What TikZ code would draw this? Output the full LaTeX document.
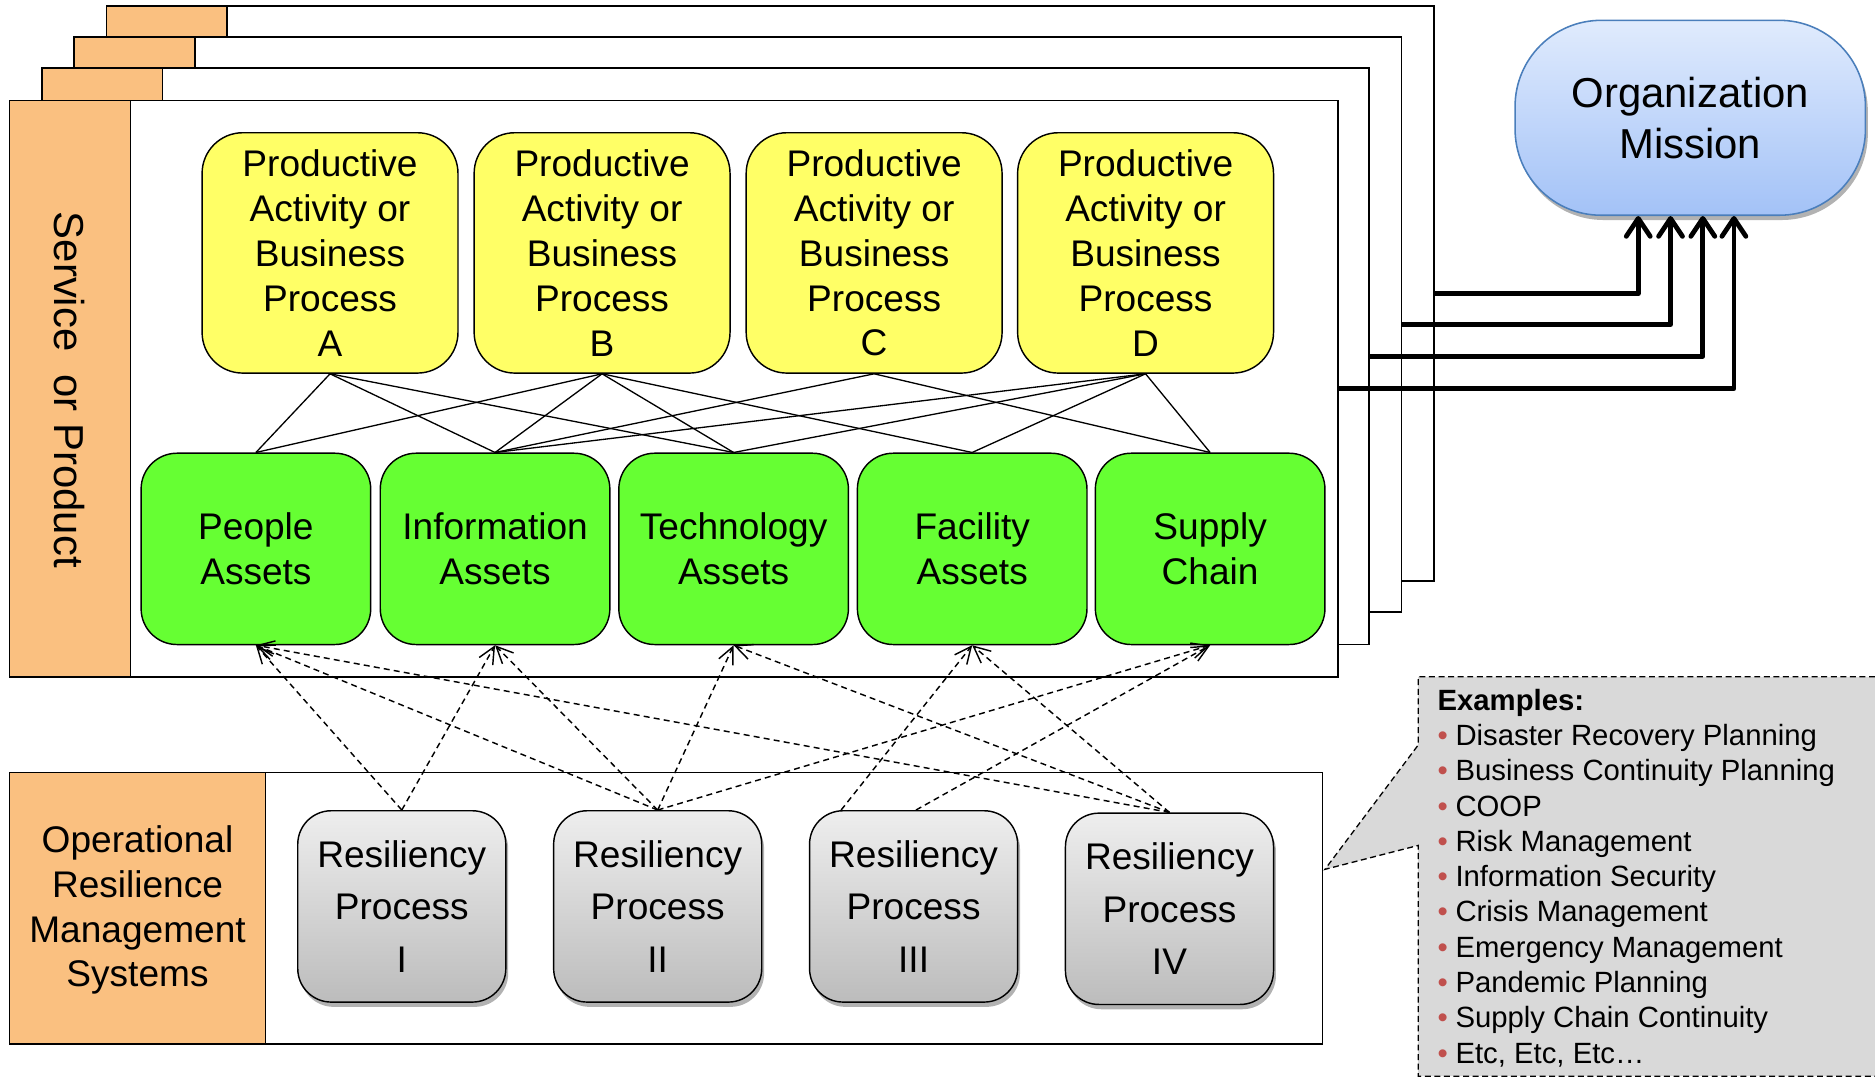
\documentclass[tikz,border=0pt]{standalone}
\usepackage{fontspec}
\setmainfont{Liberation Sans}
\usetikzlibrary{arrows.meta,shadows,calc}
\definecolor{orng}{RGB}{250,192,128}
\definecolor{ylw}{RGB}{255,255,102}
\definecolor{grn}{RGB}{102,255,51}
\definecolor{blueTop}{RGB}{224,235,253}
\definecolor{blueBot}{RGB}{163,194,247}
\definecolor{blueBorder}{RGB}{74,126,187}
\definecolor{grayTop}{RGB}{238,238,238}
\definecolor{grayBot}{RGB}{188,188,188}
\definecolor{calloutgray}{RGB}{217,217,217}
\definecolor{bulletred}{RGB}{192,80,77}
\newcommand{\bul}{\makebox[15pt][l]{\textcolor{bulletred}{\textbullet}}}
\begin{document}
\begin{tikzpicture}[x=1pt,y=-1pt,
  frame/.style={draw, line width=1.4pt, fill=white, rectangle, inner sep=0pt},
  tab/.style={draw, line width=1.4pt, fill=orng},
  procbox/.style={draw, line width=1.2pt, fill=ylw, rounded corners=34pt, minimum width=214pt, minimum height=201pt, inner sep=0pt, align=center, font=\fontsize{31}{37.5}\selectfont},
  assetbox/.style={draw, line width=1.2pt, fill=grn, rounded corners=30pt, minimum width=192pt, minimum height=160pt, inner sep=0pt, align=center, font=\fontsize{31}{38}\selectfont},
  resbox/.style={draw, line width=1.2pt, top color=grayTop, bottom color=grayBot, rounded corners=28pt, minimum width=174pt, minimum height=160pt, inner sep=0pt, align=center, font=\fontsize{31}{44}\selectfont, drop shadow={shadow xshift=2pt, shadow yshift=-4pt, opacity=0.3, fill=black}},
  link/.style={line width=1.1pt},
  dlink/.style={line width=1.2pt, dash pattern=on 5pt off 3.5pt, -{Straight Barb[length=14pt,width=13pt]}},
  bigarrow/.style={line width=4pt, line join=round, -{Straight Barb[length=15pt,width=20pt,round]}},
]
\useasboundingbox (0,0) rectangle (1568,904);

% stacked frames
\node[frame, minimum width=1110pt, minimum height=481pt] (f1) at (644,245.5) {};
\draw[tab] (89,5) rectangle (190,31);
\node[frame, minimum width=1110pt, minimum height=481pt] (f2) at (617,271.5) {};
\draw[tab] (62,31) rectangle (163,57);
\node[frame, minimum width=1110pt, minimum height=482pt] (f3) at (590,298) {};
\draw[tab] (35,57) rectangle (136,84);
\node[frame, minimum width=1111pt, minimum height=482pt] (f4) at (563.5,325) {};
\draw[tab] (8,84) rectangle (109,566);
\node[rotate=-90, font=\fontsize{35}{42}\selectfont] (svc) at (58,326) {Service\ \ or Product};

% business processes
\node[procbox] (pA) at (276,211.5) {Productive\\Activity or\\Business\\Process\\A};
\node[procbox] (pB) at (503.5,211.5) {Productive\\Activity or\\Business\\Process\\B};
\node[procbox] (pC) at (731,211.5) {Productive\\Activity or\\Business\\Process\\C};
\node[procbox] (pD) at (958,211.5) {Productive\\Activity or\\Business\\Process\\D};

% assets
\node[assetbox] (aPeople) at (214,459) {People\\Assets};
\node[assetbox] (aInfo) at (414,459) {Information\\Assets};
\node[assetbox] (aTech) at (613.5,459) {Technology\\Assets};
\node[assetbox] (aFac) at (813,459) {Facility\\Assets};
\node[assetbox] (aSup) at (1012,459) {Supply\\Chain};

\foreach \p/\a in {pA/aPeople, pA/aInfo, pA/aTech, pB/aPeople, pB/aInfo, pB/aTech, pB/aFac, pC/aInfo, pC/aSup, pD/aInfo, pD/aTech, pD/aFac, pD/aSup}
  \draw[link] (\p.south) -- (\a.north);

% mission
\node[draw=blueBorder, line width=1.3pt, top color=blueTop, bottom color=blueBot, rounded corners=72pt, minimum width=293pt, minimum height=163pt, inner sep=0pt, align=center, font=\fontsize{35}{43}\selectfont, drop shadow={shadow xshift=2pt, shadow yshift=-4pt, opacity=0.3, fill=black}] (mission) at (1413.5,98.5) {Organization\\Mission};

\draw[bigarrow] (f1.east) -| ([xshift=-43.5pt]mission.south);
\draw[bigarrow] (f2.east) -| ([xshift=-16.5pt]mission.south);
\draw[bigarrow] (f3.east) -| ([xshift=10.5pt]mission.south);
\draw[bigarrow] (f4.east) -| ([xshift=36.5pt]mission.south);

% resilience management systems
\node[frame, minimum width=1098pt, minimum height=227pt] (sys) at (557,759.5) {};
\draw[tab] (8,646) rectangle (222,873);
\node[align=center, font=\fontsize{31}{37.5}\selectfont] (orms) at (115,761) {Operational\\Resilience\\Management\\Systems};

\node[resbox] (r1) at (336,758) {Resiliency\\Process\\I};
\node[resbox] (r2) at (550,758) {Resiliency\\Process\\II};
\node[resbox] (r3) at (764,758) {Resiliency\\Process\\III};
\node[resbox] (r4) at (978,760) {Resiliency\\Process\\IV};

\coordinate (r3a) at ($(r3.north west)+(27,0)$);
\coordinate (r3b) at ($(r3.north)+(2,0)$);

\foreach \r/\a in {r1/aPeople, r1/aInfo, r2/aPeople, r2/aInfo, r2/aTech, r2/aSup, r4/aPeople, r4/aTech, r4/aFac}
  \draw[dlink] (\r.north) -- (\a.south);
\draw[dlink] (r3a) -- (aFac.south);
\draw[dlink] (r3b) -- (aSup.south);

% callout
\path[draw, fill=calloutgray, line width=1.1pt, dash pattern=on 5pt off 3pt]
  (1568,566) -- (1186,566) -- (1186,623) -- (1108,727) -- (1186,707) -- (1186,900) -- (1568,900);
\node[anchor=north west, align=left, inner sep=0pt, font=\fontsize{24.5}{29.5}\selectfont] (ex) at (1202,576)
 {\textbf{Examples:}\\
  \bul Disaster Recovery Planning\\
  \bul Business Continuity Planning\\
  \bul COOP\\
  \bul Risk Management\\
  \bul Information Security\\
  \bul Crisis Management\\
  \bul Emergency Management\\
  \bul Pandemic Planning\\
  \bul Supply Chain Continuity\\
  \bul Etc, Etc, Etc\ldots};
\end{tikzpicture}
\end{document}
